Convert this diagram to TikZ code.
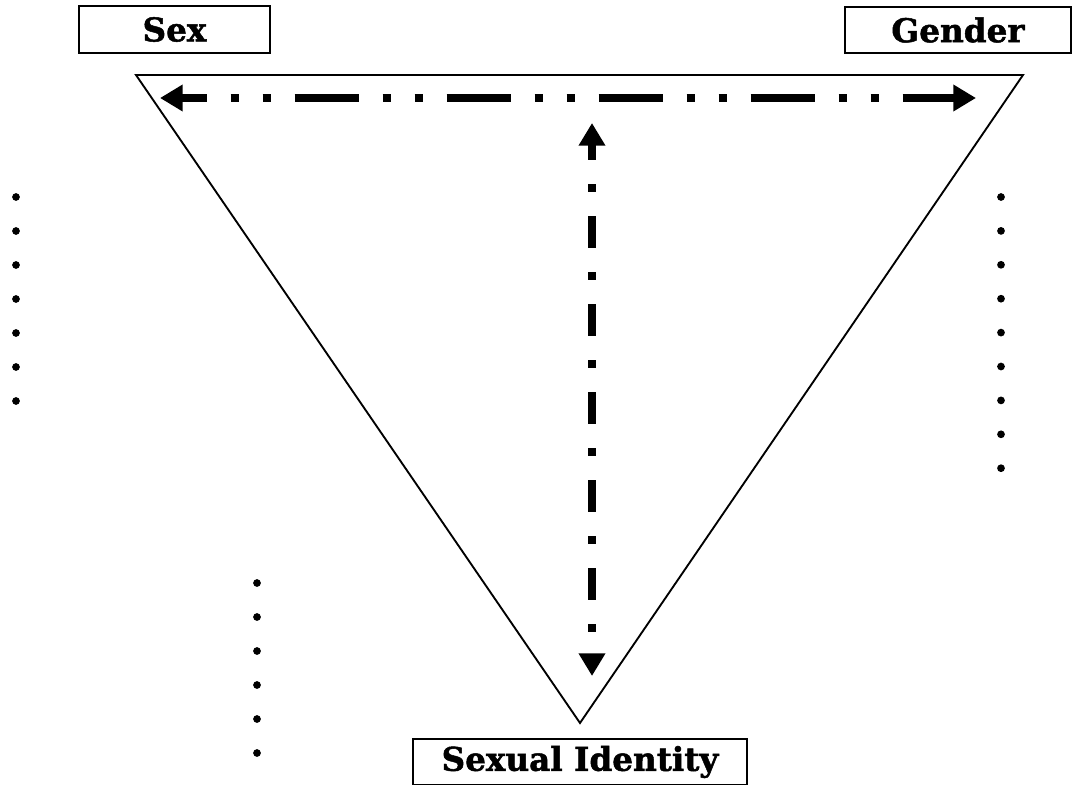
\documentclass[tikz,border=0pt]{standalone}
\usepackage{fontspec}
\newfontfamily\slabfont[BoldFeatures={FakeBold=1.5}]{DejaVu Serif}
\usetikzlibrary{arrows.meta}

\tikzset{
  namebox/.style={draw, line width=1.5pt, minimum height=35pt, inner sep=0pt,
    font=\slabfont\bfseries\fontsize{24.5}{28}\selectfont},
  linkline/.style={line width=6pt, line cap=butt, {Triangle[length=17pt,width=19pt]}-{Triangle[length=17pt,width=19pt]}},
  dashdotdot/.style={dash pattern=on 48pt off 18pt on 6pt off 18pt on 6pt off 18pt, dash phase=29pt},
  dashdot/.style={dash pattern=on 24pt off 18pt on 6pt off 18pt, dash phase=12pt},
  bullet/.style={fill=black},
}

\begin{document}
\begin{tikzpicture}[x=0.75pt, y=-0.75pt]
  \useasboundingbox (0,0) rectangle (1075,785);
  \node[namebox, minimum width=143pt] (sex) at (174.5,29.5) {Sex};
  \node[namebox, minimum width=170pt] (gender) at (958,30) {Gender};
  \node[namebox, minimum width=250pt] (identity) at (580,762) {Sexual Identity};

  \coordinate (tl) at (136,75);
  \coordinate (tr) at (1023,75);
  \coordinate (ap) at (580,723);
  \draw[line width=1.4pt, line join=miter] (tl) -- (tr) -- (ap) -- cycle;

  \coordinate (hl) at (160,98);
  \coordinate (hr) at (976,98);
  \coordinate (vt) at (592,123);
  \coordinate (vb) at (592,676);
  \draw[linkline, dashdotdot] (hl) -- (hr);
  \draw[linkline, dashdot] (vt) -- (vb);

  \foreach \i in {0,...,6} \fill[bullet] (16,197+34*\i) circle (2.9pt);
  \foreach \i in {0,...,8} \fill[bullet] (1001,197+33.9*\i) circle (2.9pt);
  \foreach \i in {0,...,5} \fill[bullet] (257,583+34*\i) circle (2.9pt);
\end{tikzpicture}
\end{document}
